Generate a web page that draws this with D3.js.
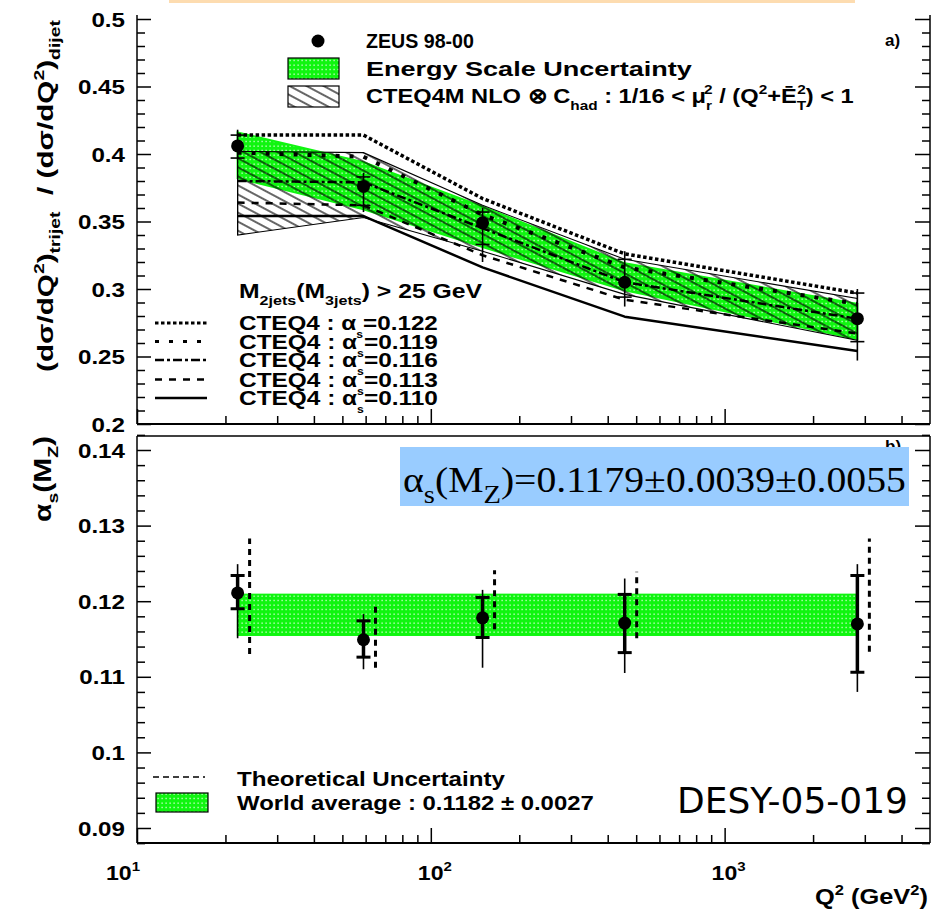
<!DOCTYPE html>
<html><head><meta charset="utf-8">
<script src="https://cdn.jsdelivr.net/npm/d3@7"></script>
<style>body{margin:0;background:#fff}svg{display:block}</style>
</head><body>
<svg id="c" width="931" height="913"></svg>
<script>
// ---------------- data ----------------
const q2 = [22, 59, 150, 457, 2830];
// top panel: trijet/dijet ratio
const ratio      = [0.406, 0.376, 0.349, 0.305, 0.278];
const ratioStatL = [0.397, 0.362, 0.333, 0.294, 0.261];
const ratioStatH = [0.414, 0.383, 0.357, 0.322, 0.297];
const ratioTotL  = [0.396, 0.357, 0.320, 0.287, 0.247];
const ratioTotH  = [0.418, 0.386, 0.360, 0.328, 0.300];
const escaleLo   = [0.382, 0.359, 0.331, 0.299, 0.263];
const escaleHi   = [0.416, 0.394, 0.361, 0.319, 0.289];
const scaleLo    = [0.340, 0.353, 0.328, 0.296, 0.262];
const scaleHi    = [0.402, 0.401, 0.362, 0.322, 0.293];
const cteq122 = [0.414, 0.414, 0.367, 0.326, 0.297];
const cteq119 = [0.401, 0.398, 0.355, 0.316, 0.289];
const cteq116 = [0.380, 0.379, 0.345, 0.305, 0.278];
const cteq113 = [0.364, 0.362, 0.325, 0.292, 0.267];
const cteq110 = [0.354, 0.354, 0.316, 0.2795, 0.254];
const cteqLabels = ["0.122", "0.119", "0.116", "0.113", "0.110"];
// bottom panel: alpha_s(MZ)
const alphas  = [0.1211, 0.1149, 0.1178, 0.1171, 0.1170];
const aStatL  = [0.1190, 0.1126, 0.1152, 0.1132, 0.1106];
const aStatH  = [0.1234, 0.1174, 0.1205, 0.1209, 0.1234];
const aTotL   = [0.1151, 0.1110, 0.1112, 0.1105, 0.1080];
const aTotH   = [0.1249, 0.1183, 0.1215, 0.1230, 0.1249];
const aTheoL  = [0.1130, 0.1112, 0.1163, 0.1151, 0.1133];
const aTheoH  = [0.1283, 0.1199, 0.1241, 0.1239, 0.1283];
const worldAvg = 0.1182, worldErr = 0.0027;
// ticks
const topTicks = [0.2, 0.25, 0.3, 0.35, 0.4, 0.45, 0.5];
const topTickLabels = ["0.2", "0.25", "0.3", "0.35", "0.4", "0.45", "0.5"];
const botTicks = [0.09, 0.10, 0.11, 0.12, 0.13, 0.14];
const botTickLabels = ["0.09", "0.1", "0.11", "0.12", "0.13", "0.14"];
const xMajor = [10, 100, 1000];
const xMajorExp = ["1", "2", "3"];

// ---------------- setup ----------------
const svg = d3.select("#c");
const L = 137, R = 930;
const x = d3.scaleLog().domain([10, 5000]).range([L, R]);
const yT = d3.scaleLinear().domain([0.2, 0.5]).range([424, 19]);
const yB = d3.scaleLinear().domain([0.09, 0.14]).range([828, 450]);
const topY0 = 15, topY1 = 424, botY0 = 436, botY1 = 843;
const BOLD = "'Liberation Sans', Arial, Helvetica, sans-serif";

const defs = svg.append("defs");
const gp = defs.append("pattern").attr("id", "gdots").attr("patternUnits", "userSpaceOnUse")
  .attr("width", 4).attr("height", 4.5);
gp.append("rect").attr("width", 4).attr("height", 4.5).attr("fill", "#10f510");
gp.append("rect").attr("x", 1.5).attr("y", 1.5).attr("width", 1.2).attr("height", 1.2).attr("fill", "#ffffff");
const hp = defs.append("pattern").attr("id", "hatch").attr("patternUnits", "userSpaceOnUse")
  .attr("width", 12).attr("height", 8).attr("patternTransform", "rotate(28)");
hp.append("line").attr("x1", 0).attr("x2", 12).attr("y1", 4).attr("y2", 4)
  .attr("stroke", "#000").attr("stroke-width", 1.2);

// rich text helper: parts are strings or [text, type, dx]
function rich(parent, px, py, parts, o) {
  const size = o.size, g = parent.append("g");
  const t = g.append("text").attr("font-family", o.family || BOLD)
    .attr("font-weight", o.weight || "bold").attr("font-size", size).attr("fill", o.fill || "#000")
    .style("white-space", "pre");
  let shift = 0;
  parts.forEach(p => {
    const s = typeof p === "string" ? p : p[0];
    const type = typeof p === "string" ? "n" : p[1];
    let target = 0;
    if (type === "sub") target = size * 0.32;
    if (type === "sub2") target = size * 0.4;
    if (type === "sup") target = -size * 0.42;
    const ts = t.append("tspan").text(s).attr("dy", target - shift);
    if (typeof p !== "string" && p[2]) ts.attr("dx", p[2]);
    shift = target;
    if (type !== "n") ts.attr("font-size", size * (o.subScale || 0.65));
  });
  const w = t.node().getComputedTextLength();
  const k = o.width ? o.width / w : (o.stretch || 1);
  const off = o.anchor === "end" ? -w : o.anchor === "middle" ? -w / 2 : 0;
  g.attr("transform", `translate(${px},${py}) rotate(${o.rotate || 0}) scale(${k},1) translate(${off},0)`);
  return g;
}

// thin orange strip at top
svg.append("rect").attr("x", 169).attr("y", 0).attr("width", 686).attr("height", 3).attr("fill", "#fddcb0");

// ================ TOP PANEL ================
const gTop = svg.append("g");
const idx = d3.range(q2.length);
gTop.append("path").datum(idx)
  .attr("d", d3.area().x(i => x(q2[i])).y0(i => yT(escaleLo[i])).y1(i => yT(escaleHi[i])))
  .attr("fill", "url(#gdots)").attr("stroke", "#10f510").attr("stroke-width", 2);
gTop.append("path").datum(idx)
  .attr("d", d3.area().x(i => x(q2[i])).y0(i => yT(scaleLo[i])).y1(i => yT(scaleHi[i])))
  .attr("fill", "url(#hatch)").attr("stroke", "#000").attr("stroke-width", 1.1);
gTop.append("line").attr("x1", x(q2[0])).attr("x2", x(q2[0]))
  .attr("y1", yT(scaleLo[0])).attr("y2", yT(scaleHi[0])).attr("stroke", "#000").attr("stroke-width", 1.2);

const curveStyles = [
  { data: cteq122, w: 3.5, dash: "3.5,2.5" },
  { data: cteq119, w: 4, dash: "4,10" },
  { data: cteq116, w: 2.5, dash: "9,3,3,3" },
  { data: cteq113, w: 2.5, dash: "7,7" },
  { data: cteq110, w: 2.5, dash: null },
];
const line = d3.line().x(d => x(d[0])).y(d => yT(d[1]));
curveStyles.forEach(c => {
  gTop.append("path").attr("d", line(q2.map((q, i) => [q, c.data[i]])))
    .attr("fill", "none").attr("stroke", "#000").attr("stroke-width", c.w)
    .attr("stroke-dasharray", c.dash).attr("stroke-linejoin", "round");
});
idx.forEach(i => {
  const cx = x(q2[i]);
  gTop.append("line").attr("x1", cx).attr("x2", cx).attr("y1", yT(ratioTotL[i])).attr("y2", yT(ratioTotH[i]))
    .attr("stroke", "#000").attr("stroke-width", 1.6);
  [ratioStatL[i], ratioStatH[i]].forEach(v => gTop.append("line").attr("x1", cx - 7).attr("x2", cx + 7)
    .attr("y1", yT(v)).attr("y2", yT(v)).attr("stroke", "#000").attr("stroke-width", 1.6));
  gTop.append("circle").attr("cx", cx).attr("cy", yT(ratio[i])).attr("r", 6.5).attr("fill", "#000");
});

// frame & axes
function frameLines(g, y0, y1) {
  g.append("line").attr("x1", L).attr("x2", L).attr("y1", y0).attr("y2", y1).attr("stroke", "#000").attr("stroke-width", 1.5);
  g.append("line").attr("x1", R).attr("x2", R).attr("y1", y0).attr("y2", y1).attr("stroke", "#000").attr("stroke-width", 1.5);
  g.append("line").attr("x1", L).attr("x2", R).attr("y1", y1).attr("y2", y1).attr("stroke", "#000").attr("stroke-width", 2);
}
frameLines(gTop, topY0, topY1);
function yAxes(g, scale, majors, labels, minorStep, lo, hi) {
  const minors = d3.range(Math.round(lo / minorStep), Math.round(hi / minorStep) + 1).map(k => k * minorStep)
    .filter(v => !majors.some(m => Math.abs(m - v) < 1e-9));
  const left = g.append("g").attr("transform", `translate(${L},0)`)
    .call(d3.axisLeft(scale).tickValues(majors).tickSize(-14).tickFormat(""));
  left.select(".domain").remove();
  left.selectAll("line").attr("stroke-width", 1.5);
  majors.forEach((m, i) => rich(g, L - 12, scale(m) + 7.5, [labels[i]], { size: 21, anchor: "end", stretch: 1.15 }));
  const lm = g.append("g").attr("transform", `translate(${L},0)`)
    .call(d3.axisLeft(scale).tickValues(minors).tickSize(-8).tickFormat(""));
  lm.select(".domain").remove(); lm.selectAll("line").attr("stroke-width", 1.5);
  const rt = g.append("g").attr("transform", `translate(${R},0)`)
    .call(d3.axisRight(scale).tickValues(majors).tickSize(-15).tickFormat(""));
  rt.select(".domain").remove(); rt.selectAll("line").attr("stroke-width", 1.5);
  const rm = g.append("g").attr("transform", `translate(${R},0)`)
    .call(d3.axisRight(scale).tickValues(minors).tickSize(-8).tickFormat(""));
  rm.select(".domain").remove(); rm.selectAll("line").attr("stroke-width", 1.5);
}
yAxes(gTop, yT, topTicks, topTickLabels, 0.01, 0.2, 0.5);
const xMinor = [20, 30, 40, 50, 60, 70, 80, 90, 200, 300, 400, 500, 600, 700, 800, 900, 2000, 3000, 4000];
function xAxes(g, yPos) {
  const a = g.append("g").attr("transform", `translate(0,${yPos})`)
    .call(d3.axisBottom(x).tickValues(xMajor).tickSize(-15).tickFormat(""));
  a.select(".domain").remove(); a.selectAll("line").attr("stroke-width", 1.5);
  const b = g.append("g").attr("transform", `translate(0,${yPos})`)
    .call(d3.axisBottom(x).tickValues(xMinor).tickSize(-8).tickFormat(""));
  b.select(".domain").remove(); b.selectAll("line").attr("stroke-width", 1.5);
}
xAxes(gTop, topY1);

// top legend
gTop.append("circle").attr("cx", 318).attr("cy", 41).attr("r", 6.5).attr("fill", "#000");
rich(gTop, 366, 48, ["ZEUS 98-00"], { size: 21, width: 108 });
gTop.append("rect").attr("x", 288).attr("y", 58).attr("width", 51).attr("height", 21)
  .attr("fill", "url(#gdots)").attr("stroke", "#000").attr("stroke-width", 1.2);
rich(gTop, 366, 76, ["Energy Scale Uncertainty"], { size: 21, width: 326 });
gTop.append("rect").attr("x", 288).attr("y", 86).attr("width", 51).attr("height", 21)
  .attr("fill", "url(#hatch)").attr("stroke", "#000").attr("stroke-width", 1.2);
rich(gTop, 366, 103, ["CTEQ4M NLO \u2297 C", ["had", "sub"], " : 1/16 < \u03bc", ["r", "sub"], ["2", "sup", -7],
  " / (Q", ["2", "sup"], "+\u0112", ["T", "sub"], ["2", "sup", -8], ") < 1"], { size: 21, width: 506 });
rich(gTop, 885, 46, ["a)"], { size: 17 });

rich(gTop, 239, 298, ["M", ["2jets", "sub"], "(M", ["3jets", "sub"], ") > 25 GeV"], { size: 21, width: 243 });
const rowBase = [330, 348.5, 367, 386.5, 405];
curveStyles.forEach((c, i) => {
  const ly = rowBase[i] - 7;
  gTop.append("line").attr("x1", 155).attr("x2", 207).attr("y1", ly).attr("y2", ly)
    .attr("stroke", "#000").attr("stroke-width", Math.min(c.w, 3)).attr("stroke-dasharray", c.dash);
  rich(gTop, 239, rowBase[i], ["CTEQ4 : \u03b1", ["s", "sub2"], "=" + cteqLabels[i]], { size: 21, width: 199, subScale: 0.5 });
});

// y title top
rich(svg, 53, 372, ["(d\u03c3/dQ", ["2", "sup"], ")", ["trijet", "sub"], "  / (d\u03c3/dQ", ["2", "sup"], ")", ["dijet", "sub"]],
  { size: 22, width: 352, rotate: -90 });

// ================ BOTTOM PANEL ================
const gBot = svg.append("g");
gBot.append("line").attr("x1", L).attr("x2", R).attr("y1", botY0).attr("y2", botY0).attr("stroke", "#000").attr("stroke-width", 1.5);
rich(gBot, 885, 452, ["b)"], { size: 17 });
gBot.append("rect").attr("x", x(q2[0])).attr("width", x(q2[q2.length - 1]) - x(q2[0]))
  .attr("y", yB(worldAvg + worldErr)).attr("height", yB(worldAvg - worldErr) - yB(worldAvg + worldErr))
  .attr("fill", "url(#gdots)").attr("stroke", "#10f510").attr("stroke-width", 1.5);
idx.forEach(i => {
  const cx = x(q2[i]);
  gBot.append("line").attr("x1", cx + 12).attr("x2", cx + 12).attr("y1", yB(aTheoL[i])).attr("y2", yB(aTheoH[i]))
    .attr("stroke", "#000").attr("stroke-width", 3).attr("stroke-dasharray", "6,5");
  gBot.append("line").attr("x1", cx).attr("x2", cx).attr("y1", yB(aTotL[i])).attr("y2", yB(aTotH[i]))
    .attr("stroke", "#000").attr("stroke-width", 1.6);
  gBot.append("line").attr("x1", cx).attr("x2", cx).attr("y1", yB(aStatL[i])).attr("y2", yB(aStatH[i]))
    .attr("stroke", "#000").attr("stroke-width", 3.5);
  [aStatL[i], aStatH[i]].forEach(v => gBot.append("line").attr("x1", cx - 7).attr("x2", cx + 7)
    .attr("y1", yB(v)).attr("y2", yB(v)).attr("stroke", "#000").attr("stroke-width", 3));
  gBot.append("circle").attr("cx", cx).attr("cy", yB(alphas[i])).attr("r", 6.5).attr("fill", "#000");
});
frameLines(gBot, botY0, botY1);
yAxes(gBot, yB, botTicks, botTickLabels, 0.002, 0.088, 0.142);
xAxes(gBot, botY1);

// x labels
xMajor.forEach((v, i) => {
  const px = i === 0 ? 123 : x(v) + 4;
  rich(gBot, px, 880, ["10", [xMajorExp[i], "sup"]], { size: 21, anchor: "middle", stretch: 1.1 });
});
rich(gBot, 928, 904, ["Q", ["2", "sup"], " (GeV", ["2", "sup"], ")"], { size: 22, anchor: "end", width: 113 });
// y title bottom
rich(svg, 51, 522, ["\u03b1", ["s", "sub"], "(M", ["Z", "sub"], ")"], { size: 23, width: 86, rotate: -90 });

// bottom legend
gBot.append("line").attr("x1", 153).attr("x2", 205).attr("y1", 777).attr("y2", 777)
  .attr("stroke", "#000").attr("stroke-width", 1.5).attr("stroke-dasharray", "6,4");
rich(gBot, 237, 786, ["Theoretical Uncertainty"], { size: 20, width: 268 });
gBot.append("rect").attr("x", 156).attr("y", 793).attr("width", 52).attr("height", 19)
  .attr("fill", "url(#gdots)").attr("stroke", "#000").attr("stroke-width", 1.2);
rich(gBot, 237, 810, ["World average : " + worldAvg.toFixed(4) + " \u00b1 " + worldErr.toFixed(4)], { size: 20, width: 357 });
rich(gBot, 677, 813, ["DESY-05-019"], { size: 36, weight: "normal", width: 231,
  family: "'Liberation Sans Narrow','DejaVu Sans Condensed','Liberation Sans',sans-serif" });

// result box
gBot.append("rect").attr("x", 400).attr("y", 447).attr("width", 509).attr("height", 59).attr("fill", "#99ccff");
rich(gBot, 403, 492, ["\u03b1", ["s", "sub"], "(M", ["Z", "sub"], ")=0.1179\u00b10.0039\u00b10.0055"],
  { size: 35, weight: "normal", width: 503, subScale: 0.72, family: "'Liberation Serif','Times New Roman',serif" });
</script>
</body></html>
